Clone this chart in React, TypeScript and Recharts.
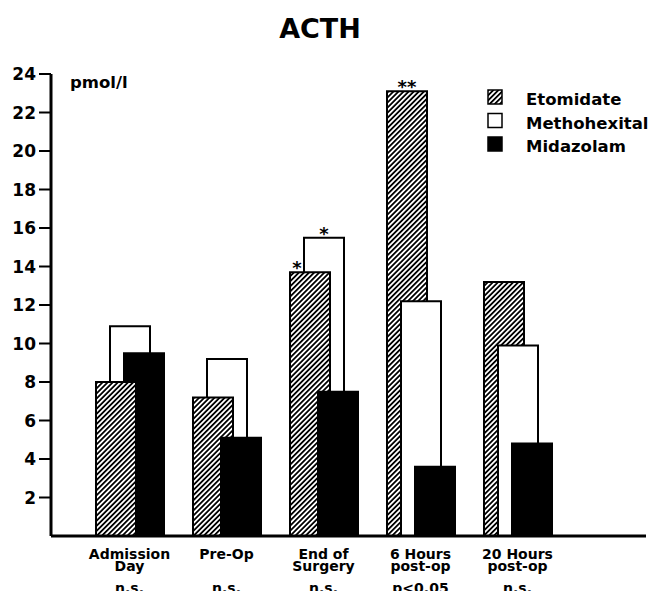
import React from "react";
import { BarChart, Bar, XAxis, YAxis, LabelList, Legend } from "recharts";

// categories along the x axis (split into printed lines)
const categories = ["Admission Day", "Pre-Op", "End of Surgery", "6 Hours post-op", "20 Hours post-op"];
const categoryLines = [["Admission", "Day"], ["Pre-Op"], ["End of", "Surgery"], ["6 Hours", "post-op"], ["20 Hours", "post-op"]];
const significance = ["n.s.", "n.s.", "n.s.", "p<0.05", "n.s."];

// ACTH, pmol/l
const etomidate = [8.0, 7.2, 13.7, 23.1, 13.2];
const methohexital = [10.9, 9.2, 15.5, 12.2, 9.9];
const midazolam = [9.5, 5.1, 7.5, 3.6, 4.8];

const etomidateStars = ["", "", "*", "**", ""];
const methohexitalStars = ["", "", "*", "", ""];
const midazolamStars = ["", "", "", "", ""];

const yTicks = [2, 4, 6, 8, 10, 12, 14, 16, 18, 20, 22, 24];

const FONT = "'DejaVu Sans', sans-serif";
const BAR_SIZE = 40;
const BAR_GAP = -26;

const drugs = [
    { key: "eto", name: "Etomidate", values: etomidate, stars: etomidateStars, fill: "url(#hatch)" },
    { key: "meth", name: "Methohexital", values: methohexital, stars: methohexitalStars, fill: "#ffffff" },
    { key: "mid", name: "Midazolam", values: midazolam, stars: midazolamStars, fill: "#000000" },
];

// tallest bar of each group goes to the back, shortest to the front
const data = categories.map((name, i) => {
    const row: Record<string, any> = { name, idx: i };
    const order = [...drugs].sort((a, b) => b.values[i] - a.values[i]);
    drugs.forEach((d) => {
        for (let r = 0; r < 3; r++) row[`${d.key}_${r}`] = null;
    });
    order.forEach((d, r) => {
        row[`${d.key}_${r}`] = d.values[i];
    });
    return row;
});

function CategoryTick(props: any) {
    const { x, y, payload } = props;
    const i = payload.index;
    const lines = categoryLines[i];
    return (
        <g>
            {lines.map((line, k) => (
                <text key={k} x={x} y={y + 23 + k * 11.5} textAnchor="middle" fontFamily={FONT} fontWeight="bold" fontSize={14} fill="#000">
                    {line}
                </text>
            ))}
            <text x={x} y={y + 57} textAnchor="middle" fontFamily={FONT} fontWeight="bold" fontSize={14} fill="#000">
                {significance[i]}
            </text>
        </g>
    );
}

function starContent(drug: any, rank: number) {
    return (props: any) => {
        const { x, y, width, value } = props;
        const i = value;
        if (i == null) return null;
        const star = drug.stars[i];
        if (!star || data[i][`${drug.key}_${rank}`] == null) return null;
        let cx = x + width / 2;
        // etomidate behind a taller methohexital bar: mark its visible strip
        if (drug.key === "eto" && methohexital[i] > etomidate[i]) {
            cx = x + (BAR_SIZE + BAR_GAP) / 2;
        }
        return (
            <text x={cx} y={y + 2} textAnchor="middle" fontFamily={FONT} fontWeight="bold" fontSize={18} fill="#000">
                {star}
            </text>
        );
    };
}

function LegendBox() {
    return (
        <svg width={166} height={72} style={{ overflow: "visible" }}>
            {drugs.map((d, k) => (
                <g key={d.key}>
                    <rect x={2} y={4 + k * 23.5} width={14} height={14} fill={d.fill} stroke="#000" strokeWidth={1.5} />
                    <text x={40} y={19 + k * 23.5} fontFamily={FONT} fontWeight="bold" fontSize={16.5} fill="#000">
                        {d.name}
                    </text>
                </g>
            ))}
        </svg>
    );
}

export default function App() {
    return (
        <div style={{ position: "absolute", left: 0, top: 0, background: "#fff" }}>
            <BarChart
                width={652}
                height={600}
                data={data}
                margin={{ top: 74, right: 6, bottom: 0, left: 0 }}
                barSize={BAR_SIZE}
                barGap={BAR_GAP}
            >
                <defs>
                    <pattern id="hatch" patternUnits="userSpaceOnUse" width={3.6} height={3.6} patternTransform="rotate(45)">
                        <rect width={3.6} height={3.6} fill="#fff" />
                        <rect width={1.8} height={3.6} fill="#000" />
                    </pattern>
                </defs>
                <text x={320} y={38} textAnchor="middle" fontFamily={FONT} fontWeight="bold" fontSize={27} fill="#000">
                    ACTH
                </text>
                <text x={70} y={88} fontFamily={FONT} fontWeight="bold" fontSize={16.5} fill="#000">
                    pmol/l
                </text>
                <XAxis
                    dataKey="name"
                    height={64}
                    padding={{ left: 30, right: 80 }}
                    axisLine={{ stroke: "#000", strokeWidth: 3 }}
                    tickLine={false}
                    tickSize={0}
                    tickMargin={0}
                    interval={0}
                    tick={<CategoryTick />}
                />
                <YAxis
                    width={51}
                    domain={[0, 24]}
                    ticks={yTicks}
                    interval={0}
                    axisLine={{ stroke: "#000", strokeWidth: 3 }}
                    tickLine={{ stroke: "#000", strokeWidth: 2 }}
                    tickSize={12}
                    tickMargin={3}
                    tick={{ fontFamily: FONT, fontWeight: "bold", fontSize: 17, fill: "#000" }}
                />
                <Legend
                    layout="vertical"
                    align="center"
                    verticalAlign="middle"
                    wrapperStyle={{ top: 86, left: 486, width: 166 }}
                    content={() => <LegendBox />}
                />
                {[0, 1, 2].map((rank) =>
                    drugs.map((d) => (
                        <Bar
                            key={`${d.key}_${rank}`}
                            dataKey={`${d.key}_${rank}`}
                            name={d.name}
                            stackId={d.key}
                            fill={d.fill}
                            stroke="#000"
                            strokeWidth={2}
                            isAnimationActive={false}
                        >
                            <LabelList dataKey="idx" content={starContent(d, rank)} />
                        </Bar>
                    ))
                )}
            </BarChart>
        </div>
    );
}
